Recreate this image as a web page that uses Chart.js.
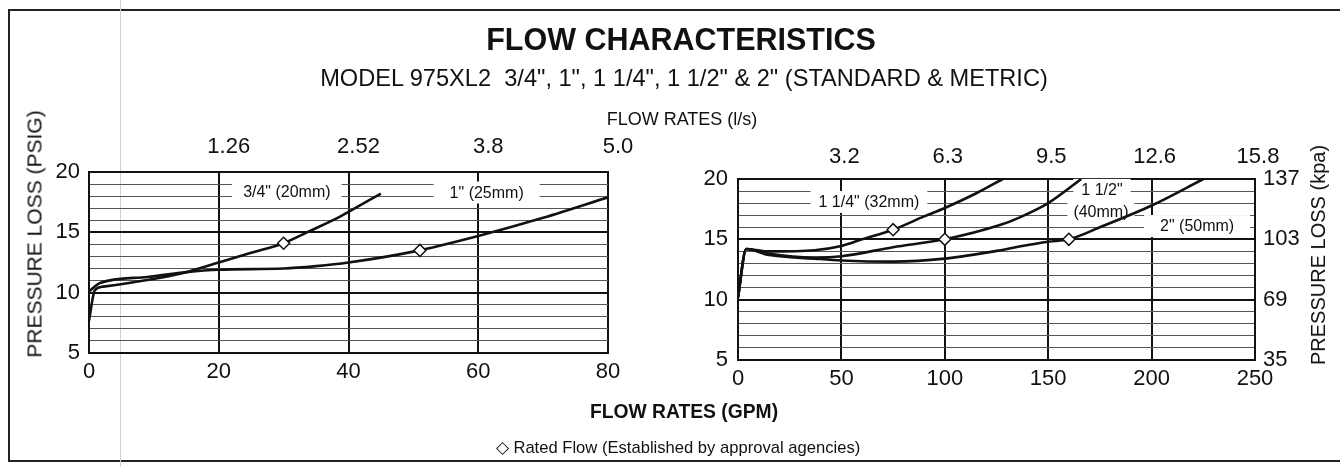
<!DOCTYPE html>
<html>
<head>
<meta charset="utf-8">
<script src="https://cdn.jsdelivr.net/npm/chart.js@4.4.1/dist/chart.umd.min.js"></script>
<style>
  body { margin: 0; width: 1340px; height: 467px; overflow: hidden; background: #fff; position: relative;
         font-family: "Liberation Sans", Arial, sans-serif; color: #111; }
  .txt { position: absolute; white-space: nowrap; line-height: 1; }
  .center { transform: translateX(-50%); }
  .rot { transform: translate(-50%, -50%) rotate(-90deg); }
  #frame { position: absolute; left: 8px; top: 9px; width: 1340px; height: 449px;
           border-left: 2px solid #222; border-top: 2px solid #222; border-bottom: 2px solid #222; }
  #scan { position: absolute; left: 120px; top: 0; width: 1px; height: 467px; background: #cfcfcf; }
  canvas { position: absolute; top: 0; }
</style>
</head>
<body>
<div id="frame"></div>
<div id="scan"></div>
<canvas id="izquierda" width="670" height="467" style="left:0"></canvas>
<canvas id="derecha" width="670" height="467" style="left:670px"></canvas>

<div class="txt center" style="left:681px; top:24px; font-size:30.5px; font-weight:bold;">FLOW CHARACTERISTICS</div>
<div class="txt center" style="left:684px; top:67px; font-size:23.6px;">MODEL 975XL2&nbsp;&nbsp;3/4", 1", 1 1/4", 1 1/2" &amp; 2" (STANDARD &amp; METRIC)</div>
<div class="txt center" style="left:682px; top:110px; font-size:18px;">FLOW RATES (l/s)</div>
<div class="txt center" style="left:684px; top:402px; font-size:19.3px; font-weight:bold;">FLOW RATES (GPM)</div>
<div class="txt center" style="left:678px; top:440px; font-size:16.6px;">&#9671; Rated Flow (Established by approval agencies)</div>
<div class="txt rot" style="left:34px; top:234px; font-size:21px;">PRESSURE LOSS (PSIG)</div>
<div class="txt rot" style="left:1318px; top:255px; font-size:20px;">PRESSURE LOSS (kpa)</div>

<script>
// caudal (GPM) y perdida de presion (psi)
const flow34 = [0, 0.9, 2.2, 9, 15, 20, 25, 30, 33.6, 38.7, 40, 45];
const loss34 = [7.7, 10.2, 10.5, 11.05, 11.7, 12.5, 13.3, 14.1, 15.0, 16.3, 16.7, 18.2];

const flow1 = [0, 1.7, 9, 15, 20, 30, 35, 40, 50, 60, 70, 80];
const loss1 = [10.1, 10.8, 11.3, 11.7, 11.9, 12.0, 12.2, 12.5, 13.4, 14.7, 16.2, 17.9];

const flow114 = [0, 4, 15, 37, 50, 60, 75, 90, 100, 115, 128];
const loss114 = [10.2, 14.2, 14.0, 14.1, 14.45, 15.0, 15.8, 16.9, 17.6, 18.8, 20];

const flow112 = [0, 4, 15, 37, 50, 75, 100, 127, 136, 150, 166];
const loss112 = [10.2, 14.2, 13.8, 13.5, 13.6, 14.35, 15.0, 16.2, 16.8, 18.0, 20];

const flow2 = [0, 4, 15, 37, 50, 75, 100, 127, 136, 150, 160, 175, 200, 225];
const loss2 = [10.2, 14.2, 13.7, 13.4, 13.25, 13.15, 13.4, 14.1, 14.4, 14.8, 15.0, 16.0, 17.8, 20];

// puntos de caudal nominal
const ratedFlowLeft = [30, 51];
const ratedLossLeft = [14.1, 13.5];
const ratedFlowRight = [75, 100, 160];
const ratedLossRight = [15.8, 15.0, 15.0];

// etiquetas de los ejes secundarios
const lsLeft = ['1.26', '2.52', '3.8', '5.0'];
const lsRight = ['3.2', '6.3', '9.5', '12.6', '15.8'];
const kpaLabels = ['35', '69', '103', '137'];

const FONT = '"Liberation Sans", Arial, sans-serif';
const zip = (xs, ys) => xs.map((x, i) => ({ x, y: ys[i] }));

const curva = (flows, losses) => ({
    data: zip(flows, losses),
    borderColor: '#111',
    borderWidth: 2.6,
    pointRadius: 0,
    cubicInterpolationMode: 'monotone',
    fill: false,
    order: 2
});

const nominal = (flows, losses) => ({
    data: zip(flows, losses),
    showLine: false,
    pointStyle: 'rectRot',
    pointRadius: 6,
    pointBackgroundColor: '#fff',
    pointBorderColor: '#111',
    pointBorderWidth: 1.5,
    order: 0
});

// etiquetas de cada tamano con fondo blanco que tapa la reticula
const etiquetas = (items) => ({
    id: 'etiquetas',
    beforeDatasetsDraw(chart) {
        const { ctx, scales: { x, y } } = chart;
        ctx.save();
        ctx.font = '16px ' + FONT;
        ctx.textAlign = 'center';
        ctx.textBaseline = 'middle';
        items.forEach((it) => {
            const px = x.getPixelForValue(it.x);
            const py = y.getPixelForValue(it.y);
            const w = ctx.measureText(it.text).width + 2 * it.pad;
            ctx.fillStyle = '#fff';
            ctx.fillRect(px - w / 2, py - 11, w, 22);
            ctx.fillStyle = '#111';
            ctx.fillText(it.text, px, py + 1);
        });
        ctx.restore();
    }
});

const ejeY = (width, padding) => ({
    type: 'linear',
    min: 5, max: 20,
    afterFit: (s) => { s.width = width; },
    ticks: {
        stepSize: 1,
        maxTicksLimit: 20,
        autoSkip: false,
        padding,
        color: '#111',
        font: { size: 22, family: FONT },
        callback: (v) => (v % 5 === 0 ? String(v) : '')
    },
    grid: {
        drawTicks: false,
        color: (c) => (c.tick.value % 5 === 0 ? '#111' : '#555'),
        lineWidth: (c) => (c.tick.value % 5 === 0 ? 2 : 1)
    },
    border: { display: true, color: '#111', width: 2 }
});

const ejeX = (max, step, height, padding) => ({
    type: 'linear',
    position: 'bottom',
    min: 0, max,
    afterFit: (s) => { s.height = height; },
    ticks: { stepSize: step, padding, color: '#111', font: { size: 22, family: FONT } },
    grid: { drawTicks: false, color: '#111', lineWidth: 2 },
    border: { display: true, color: '#111', width: 2 }
});

const ejeArriba = (max, step, height, padding, labels, offset) => ({
    type: 'linear',
    position: 'top',
    min: 0, max,
    afterFit: (s) => { s.height = height; },
    ticks: {
        stepSize: step,
        padding,
        labelOffset: offset,
        color: '#111',
        font: { size: 22, family: FONT },
        callback: (v) => (v === 0 ? '' : labels[v / step - 1])
    },
    grid: { drawTicks: false, drawOnChartArea: false },
    border: { display: true, color: '#111', width: 2 }
});

const crearGraficoIzquierda = () => {
    new Chart(document.getElementById('izquierda'), {
        type: 'line',
        data: {
            datasets: [
                nominal(ratedFlowLeft, ratedLossLeft),
                curva(flow34, loss34),
                curva(flow1, loss1)
            ]
        },
        options: {
            responsive: false,
            animation: false,
            layout: { padding: { left: 0, right: 62, top: 0, bottom: 0 } },
            plugins: { legend: { display: false }, tooltip: { enabled: false } },
            scales: {
                x: ejeX(80, 20, 114, 6),
                x2: ejeArriba(80, 20, 172, 12, lsLeft, 10),
                y: ejeY(89, 9)
            }
        },
        plugins: [etiquetas([
            { text: '3/4" (20mm)', x: 30.5, y: 18.4, pad: 11 },
            { text: '1" (25mm)', x: 61.3, y: 18.3, pad: 16 }
        ])]
    });
};

const crearGraficoDerecha = () => {
    const y2 = ejeY(85, 8);
    y2.position = 'right';
    y2.ticks = { ...y2.ticks, stepSize: 5, callback: (v) => kpaLabels[(v - 5) / 5] };
    y2.grid = { drawTicks: false, drawOnChartArea: false };

    new Chart(document.getElementById('derecha'), {
        type: 'line',
        data: {
            datasets: [
                nominal(ratedFlowRight, ratedLossRight),
                curva(flow114, loss114),
                curva(flow112, loss112),
                curva(flow2, loss2)
            ]
        },
        options: {
            responsive: false,
            animation: false,
            layout: { padding: 0 },
            plugins: { legend: { display: false }, tooltip: { enabled: false } },
            scales: {
                x: ejeX(250, 50, 107, 6),
                x2: ejeArriba(250, 50, 179, 9, lsRight, 3),
                y: ejeY(68, 10),
                y2
            }
        },
        plugins: [etiquetas([
            { text: '1 1/4" (32mm)', x: 63.3, y: 18.1, pad: 8 },
            { text: '1 1/2"', x: 176, y: 19.1, pad: 8 },
            { text: '(40mm)', x: 175.5, y: 17.3, pad: 6 },
            { text: '2" (50mm)', x: 222, y: 16.1, pad: 16 }
        ])]
    });
};

crearGraficoIzquierda();
crearGraficoDerecha();
</script>
</body>
</html>
